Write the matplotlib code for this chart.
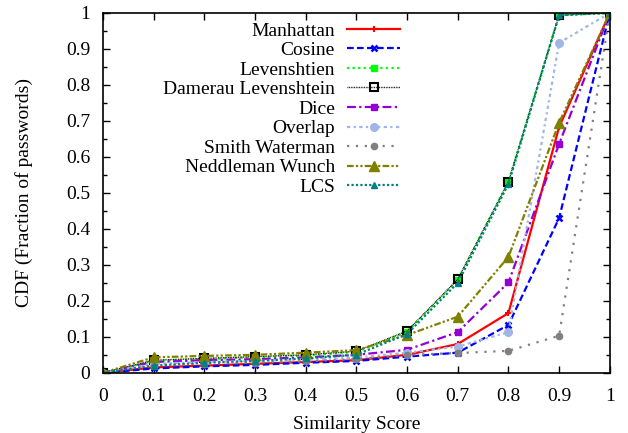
import matplotlib
matplotlib.use("Agg")
import matplotlib.pyplot as plt
from matplotlib.ticker import MultipleLocator, FormatStrFormatter

plt.rcParams['font.family'] = ['Liberation Serif', 'DejaVu Serif']
plt.rcParams['font.size'] = 14

scores = [0, 0.1, 0.2, 0.3, 0.4, 0.5, 0.6, 0.7, 0.8, 0.9, 1.0]

manhattan = [0, 0.015, 0.020, 0.025, 0.030, 0.035, 0.050, 0.080, 0.166, 0.683, 1.0]
cosine = [0, 0.012, 0.018, 0.022, 0.028, 0.033, 0.045, 0.056, 0.133, 0.430, 1.0]
levenshtien = [0, 0.033, 0.038, 0.043, 0.048, 0.058, 0.114, 0.258, 0.531, 0.994, 1.0]
damerau = [0, 0.035, 0.040, 0.045, 0.050, 0.060, 0.116, 0.260, 0.531, 0.994, 1.0]
dice = [0, 0.030, 0.035, 0.038, 0.043, 0.050, 0.064, 0.113, 0.251, 0.636, 1.0]
overlap = [0, 0.025, 0.030, 0.033, 0.037, 0.042, 0.056, 0.073, 0.113, 0.917, 1.0]
smith = [0, 0.020, 0.025, 0.028, 0.032, 0.038, 0.050, 0.055, 0.061, 0.103, 1.0]
needleman = [0, 0.043, 0.047, 0.050, 0.056, 0.063, 0.105, 0.156, 0.322, 0.695, 1.0]
lcs = [0, 0.020, 0.028, 0.033, 0.040, 0.050, 0.108, 0.250, 0.525, 0.994, 1.0]

fig = plt.figure(figsize=(6.28, 4.33), dpi=100)
ax = fig.add_axes([0.164, 0.139, 0.807, 0.831])

lw = 1.6
ax.plot(scores, manhattan, color='#ff0000', ls='-', lw=lw, marker='+', ms=5, mew=1.5, label='Manhattan')
ax.plot(scores, cosine, color='#0000ff', ls=(0, (3, 1.5)), lw=lw, marker='x', ms=4.5, mew=1.8, label='Cosine')
ax.plot(scores, levenshtien, color='#00ff00', ls=(0, (1, 1.5)), lw=lw, marker='s', ms=5, label='Levenshtien')
ax.plot(scores, damerau, color='black', ls=(0, (0.6, 0.6)), lw=1.0, marker='s', ms=5.5, mfc='none', mec='black', mew=1.5, label='Damerau Levenshtein')
ax.plot(scores, dice, color='#9400d3', ls=(0, (4, 1.5, 1, 1.5)), lw=lw, marker='s', ms=5, label='Dice')
ax.plot(scores, overlap, color='#a0b6e6', ls=(0, (1.5, 1.5, 1, 1.5)), lw=lw, marker='o', ms=5.5, label='Overlap')
ax.plot(scores, smith, color='#808080', ls=(0, (1, 3)), lw=lw, marker='o', ms=4.5, label='Smith Waterman')
ax.plot(scores, needleman, color='#808000', ls=(0, (3, 1, 1, 1, 1, 1)), lw=lw, marker='^', ms=6.5, label='Neddleman Wunch')
ax.plot(scores, lcs, color='#008080', ls=(0, (1, 1)), lw=lw, marker='^', ms=4.5, label='LCS')

ax.set_xlim(0, 1)
ax.set_ylim(0, 1)
ax.xaxis.set_major_locator(MultipleLocator(0.1))
ax.yaxis.set_major_locator(MultipleLocator(0.1))
ax.yaxis.set_minor_locator(MultipleLocator(0.05))
ax.xaxis.set_major_formatter(FormatStrFormatter('%g'))
ax.yaxis.set_major_formatter(FormatStrFormatter('%g'))
ax.tick_params(which='both', direction='in', top=True, right=True, width=1)
ax.tick_params(which='major', length=5)
ax.tick_params(which='minor', length=3)
ax.tick_params(axis='x', pad=11)
ax.tick_params(axis='y', pad=9)
for s in ax.spines.values():
    s.set_linewidth(1.2)

ax.set_xlabel('Similarity Score', labelpad=8)
ax.set_ylabel('CDF (Fraction of passwords)', labelpad=24)

leg = ax.legend(loc='upper right', bbox_to_anchor=(0.586, 0.975), frameon=False,
                markerfirst=False, numpoints=1, handlelength=2.7, handletextpad=0.65,
                labelspacing=0.1, borderpad=0, borderaxespad=0)

fig.savefig('out.png', dpi=100)
